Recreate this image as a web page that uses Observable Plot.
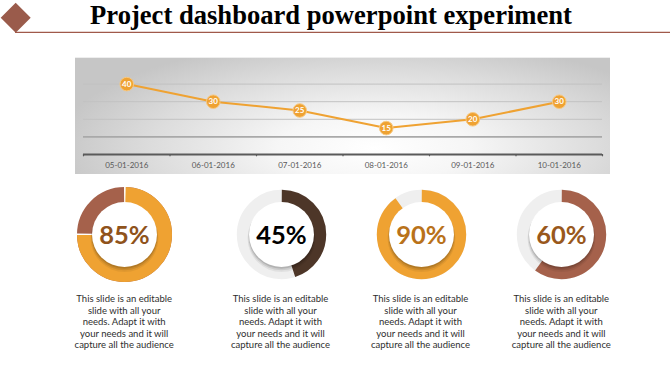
<!DOCTYPE html>
<html>
<head>
<meta charset="utf-8">
<script src="https://cdn.jsdelivr.net/npm/d3@7"></script>
<script src="https://cdn.jsdelivr.net/npm/@observablehq/plot@0.6"></script>
<style>
  html, body { margin: 0; padding: 0; background: #fff; }
  #root { position: relative; width: 670px; height: 376px; overflow: hidden; background: #fff; }
  #panel { position: absolute; left: 75px; top: 57px; width: 535px; height: 117px;
    background: radial-gradient(ellipse 60% 95% at 56% 78%, #ffffff 0%, #f6f6f6 30%, #dcdcdc 70%, #c6c6c6 100%);
    box-shadow: inset 0 1px 0 #eeeeee; }
  .card { position: absolute; top: 184px; width: 150px; text-align: center; }
  .card svg { display: block; margin: 0 auto; overflow: visible; }
  .desc { margin-top: 9px; font-family: Lato, "Open Sans", sans-serif; font-size: 9.5px; line-height: 11.6px; color: #2e2e2e; white-space: pre-line; }
</style>
</head>
<body>
<div id="root">
  <svg id="header" width="670" height="40" style="position:absolute;left:0;top:0">
    <polygon points="15.7,2.7 30.7,17.7 15.7,32.7 0.7,17.7" fill="#9a5b4b"></polygon>
    <line x1="15" x2="670" y1="32.3" y2="32.3" stroke="#a0594a" stroke-width="1.3"></line>
    <text id="title" x="331" y="24" text-anchor="middle" font-family="'Liberation Serif', 'DejaVu Serif', serif" font-weight="bold" font-size="26.6" fill="#000">Project dashboard powerpoint experiment</text>
  </svg>
  <div id="panel"></div>
</div>
<script>
// ---- data ----
const dates = ["05-01-2016", "06-01-2016", "07-01-2016", "08-01-2016", "09-01-2016", "10-01-2016"];
const values = [40, 30, 25, 15, 20, 30];
const gridValues = [20, 30, 40];
const baseGrid = [10];
const percentLabels = ["85%", "45%", "90%", "60%"];
const ringShares = [75, 45, 90, 60];
const ringColors = ["#efa232", "#4d3628", "#efa232", "#a5614b"];
const restColors = ["#a5614b", "#efefef", "#efefef", "#efefef"];
const labelColors = ["#8f531b", "#000000", "#b9721a", "#99581c"];
const description = "This slide is an editable\nslide with all your\nneeds. Adapt it with\nyour needs and it will\ncapture all the audience";

// ---- layout ----
const cardCenters = [124.2, 280.5, 420.5, 561.3];
const outerRadii = [47.5, 44.7, 44.7, 44.7];
const innerRadius = 32.5;

// ---- line chart ----
const orange = "#efa232";
const line = Plot.plot({
  width: 535, height: 117,
  marginLeft: 8, marginRight: 8, marginTop: 9, marginBottom: 20,
  x: {domain: [0, 6], axis: null},
  y: {domain: [0, 50], axis: null},
  style: {background: "transparent", overflow: "visible"},
  marks: [
    Plot.ruleY(gridValues, {stroke: "#c2c2c2", strokeWidth: 1}),
    Plot.ruleY(baseGrid, {stroke: "#a9a9a9", strokeWidth: 1.6}),
    Plot.ruleY([0], {stroke: "#5a5a5a", strokeWidth: 2}),
    Plot.ruleX(d3.range(dates.length + 1), {x: d => d, y1: 0, y2: -1.3, stroke: "#5a5a5a", strokeWidth: 1.2}),
    Plot.text(dates, {x: (d, i) => i + 0.5, y: 0, dy: 10.5, text: d => d, fill: "#595959", fontSize: 8, fontFamily: "Lato, 'Open Sans', sans-serif"}),
    Plot.line(values, {x: (d, i) => i + 0.5, y: d => d, stroke: orange, strokeWidth: 2}),
    Plot.dot(values, {x: (d, i) => i + 0.5, y: d => d, r: 6.8, fill: orange, stroke: "#f7c983", strokeWidth: 1}),
    Plot.text(values, {x: (d, i) => i + 0.5, y: d => d, text: d => String(d), fill: "#fff", fontSize: 8, fontWeight: "bold", fontFamily: "Lato, sans-serif"})
  ]
});
document.getElementById("panel").appendChild(line);

// ---- donuts ----
const root = document.getElementById("root");
percentLabels.forEach((label, k) => {
  const outer = outerRadii[k];
  const w = outer - innerRadius + 2;
  const rMid = outer - w / 2;
  const C = 2 * Math.PI * rMid;
  const p = ringShares[k] / 100;
  const marks = [
    Plot.dot([0], {x: 0, y: 0, r: rMid, fill: "none", stroke: restColors[k], strokeWidth: w}),
    Plot.dot([0], {x: 0, y: 0, r: rMid, fill: "none", stroke: ringColors[k], strokeWidth: w,
      strokeDasharray: `${p * C} ${(1 - p) * C}`, strokeDashoffset: C * 0.25})
  ];
  if (restColors[k] !== "#efefef") {
    const g = 1.4;
    marks.push(Plot.dot([0], {x: 0, y: 0, r: rMid, fill: "none", stroke: "#fff", strokeWidth: w,
      strokeDasharray: `${g} ${p * C - g} ${g} ${(1 - p) * C - g}`, strokeDashoffset: C * 0.25 + g / 2}));
  }
  marks.push(
    Plot.dot([0], {x: 0, y: 0, dy: 3.5, r: innerRadius + 1.5, fill: "#000", fillOpacity: 0.06, stroke: "none"}),
    Plot.dot([0], {x: 0, y: 0, dy: 2.5, r: innerRadius + 0.8, fill: "#000", fillOpacity: 0.09, stroke: "none"}),
    Plot.dot([0], {x: 0, y: 0, dy: 1.5, r: innerRadius + 0.2, fill: "#000", fillOpacity: 0.12, stroke: "none"}),
    Plot.dot([0], {x: 0, y: 0, r: innerRadius, fill: "#fff", stroke: "none"}),
    Plot.text([label], {x: 0, y: 0, dy: 1.5, text: d => d, fill: labelColors[k], fontSize: 25.5, fontWeight: "bold", fontFamily: "Lato, 'Open Sans', sans-serif"})
  );
  const chart = Plot.plot({
    width: 100, height: 100, margin: 0,
    x: {domain: [-50, 50], axis: null},
    y: {domain: [-50, 50], axis: null},
    style: {background: "transparent", overflow: "visible"},
    marks
  });
  const card = document.createElement("div");
  card.className = "card";
  card.style.left = (cardCenters[k] - 75) + "px";
  card.appendChild(chart);
  const desc = document.createElement("div");
  desc.className = "desc";
  desc.textContent = description;
  card.appendChild(desc);
  root.appendChild(card);
});
</script>
</body>
</html>
